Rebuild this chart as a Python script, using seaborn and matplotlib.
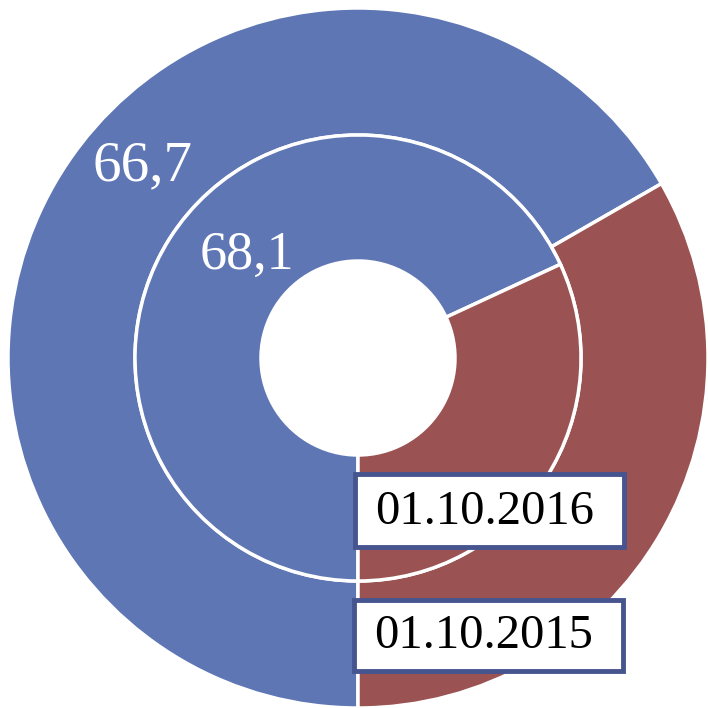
import seaborn as sns
import matplotlib.pyplot as plt
from matplotlib.patches import Rectangle

# data
dates = ['01.10.2015', '01.10.2016']
outer_vals = [66.7, 33.3]   # 01.10.2015
inner_vals = [68.1, 31.9]   # 01.10.2016
colors = ['#5E76B4', '#9B5252']

sns.set_style('white')
plt.rcParams['font.family'] = ['Liberation Serif', 'DejaVu Serif']

fig = plt.figure(figsize=(7.08, 7.08), dpi=100)
ax = fig.add_axes([0, 0, 1, 1])

R = 350.0
r_mid = 223.0 / R
r_hole = 97.0 / R

ax.pie(outer_vals, radius=1.0, colors=colors, startangle=-90, counterclock=False,
       wedgeprops=dict(width=1.0 - r_mid, edgecolor='white', linewidth=2.5))
ax.pie(inner_vals, radius=r_mid, colors=colors, startangle=-90, counterclock=False,
       wedgeprops=dict(width=r_mid - r_hole, edgecolor='white', linewidth=2.5))

ax.set_xlim(-358 / R, 350 / R)
ax.set_ylim(-350 / R, 358 / R)
ax.set_aspect('equal')
ax.axis('off')


def px(x, y):
    return (x - 358) / R, (358 - y) / R


ax.text(*px(143, 166), '%.1f' % outer_vals[0], color='white', fontsize=41,
        ha='center', va='center')
ax.text(*px(247, 256), '%.1f' % inner_vals[0], color='white', fontsize=39,
        ha='center', va='center')
for t in ax.texts:
    t.set_text(t.get_text().replace('.', ','))

# label boxes
for (x0, y0, x1, y1), lab in [((355, 474, 624, 547), dates[1]),
                              ((354, 600, 623, 671), dates[0])]:
    bx, by = px(x0, y1)
    ax.add_patch(Rectangle((bx, by), (x1 - x0) / R, (y1 - y0) / R, facecolor='white',
                           edgecolor='#46558F', linewidth=3.5, zorder=5))
    ax.text(*px(x0 + 20, (y0 + y1) / 2 + 1), lab, color='black', fontsize=35,
            ha='left', va='center', zorder=6)

fig.savefig('out.png', dpi=100)
